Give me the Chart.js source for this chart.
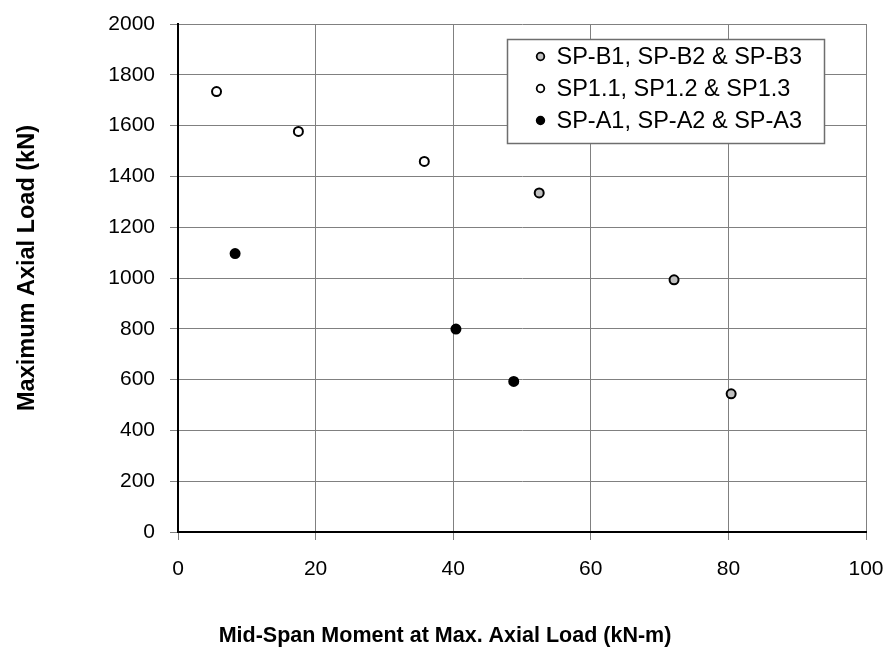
<!DOCTYPE html>
<html>
<head>
<meta charset="utf-8">
<script src="https://cdn.jsdelivr.net/npm/chart.js@4/dist/chart.umd.min.js"></script>
<style>
  body { margin: 0; background: #fff; }
</style>
</head>
<body>
<canvas id="myChart" width="891" height="652"></canvas>
<script>
// series: [moment kN-m, axial load kN]
let seriesNames = ["SP-B1, SP-B2 & SP-B3", "SP1.1, SP1.2 & SP1.3", "SP-A1, SP-A2 & SP-A3"];
let momentB = [52.5, 72.1, 80.4];
let loadB = [1335, 993, 544];
let moment1 = [5.6, 17.5, 35.8];
let load1 = [1734, 1577, 1459];
let momentA = [8.3, 40.4, 48.8];
let loadA = [1096, 799, 593];
let fills = ["#c0c0c0", "#ffffff", "#000000"];
let tituloX = "Mid-Span Moment at Max. Axial Load (kN-m)";
let tituloY = "Maximum Axial Load (kN)";

let fonte = "'Liberation Sans', Arial, sans-serif";

function pares(xs, ys) {
  let out = [];
  for (let i = 0; i < xs.length; i++) {
    out.push({ x: xs[i], y: ys[i] });
  }
  return out;
}

// legend box and axis titles drawn by hand (excel puts them off-centre)
let extras = {
  id: "extras",
  afterDraw(chart) {
    let ctx = chart.ctx;
    let left = 507.5, top = 39.5, w = 317, h = 104;
    ctx.save();
    ctx.fillStyle = "#fff";
    ctx.fillRect(left, top, w, h);
    ctx.strokeStyle = "#6e6e6e";
    ctx.lineWidth = 1.5;
    ctx.strokeRect(left, top, w, h);
    ctx.font = "23.5px " + fonte;
    ctx.textBaseline = "middle";
    chart.data.datasets.forEach(function (ds, i) {
      let cy = top + 17 + i * 32;
      ctx.beginPath();
      ctx.arc(left + 33, cy, 3.8, 0, Math.PI * 2);
      ctx.fillStyle = ds.backgroundColor;
      ctx.fill();
      ctx.lineWidth = 1.8;
      ctx.strokeStyle = "#000";
      ctx.stroke();
      ctx.fillStyle = "#000";
      ctx.fillText(ds.label, left + 49, cy + 1);
    });

    ctx.fillStyle = "#000";
    ctx.textAlign = "center";
    ctx.font = "bold 21.5px " + fonte;
    ctx.fillText(tituloX, 445, 636);

    ctx.translate(28, 268);
    ctx.rotate(-Math.PI / 2);
    ctx.font = "bold 23.5px " + fonte;
    ctx.fillText(tituloY, 0, 0);
    ctx.restore();
  }
};

let datasets = [];
let xsList = [momentB, moment1, momentA];
let ysList = [loadB, load1, loadA];
for (let i = 0; i < seriesNames.length; i++) {
  datasets.push({
    label: seriesNames[i],
    data: pares(xsList[i], ysList[i]),
    backgroundColor: fills[i],
    borderColor: "#000",
    borderWidth: 2,
    pointRadius: 4.5,
    pointHoverRadius: 4.5
  });
}

let chart = new Chart("myChart", {
  type: "scatter",
  data: { datasets: datasets },
  options: {
    responsive: false,
    animation: false,
    layout: { padding: { left: 0, right: 25, top: 24, bottom: 0 } },
    plugins: {
      legend: { display: false },
      tooltip: { enabled: false }
    },
    scales: {
      x: {
        min: 0,
        max: 100,
        ticks: {
          stepSize: 20,
          color: "#000",
          padding: 17,
          font: { family: fonte, size: 21 },
          callback: function (v) { return String(v); }
        },
        grid: { color: "#808080", lineWidth: 1, tickLength: 8 },
        border: { color: "#000", width: 2 },
        afterFit(scale) {
          scale.height = 120;
          scale.paddingLeft = 0;
          scale.paddingRight = 0;
        }
      },
      y: {
        min: 0,
        max: 2000,
        ticks: {
          stepSize: 200,
          color: "#000",
          padding: 15,
          font: { family: fonte, size: 21 },
          callback: function (v) { return String(v); }
        },
        grid: { color: "#808080", lineWidth: 1, tickLength: 8 },
        border: { color: "#000", width: 2 },
        afterFit(scale) {
          scale.width = 178;
          scale.paddingTop = 0;
          scale.paddingBottom = 0;
        }
      }
    }
  },
  plugins: [extras]
});
</script>
</body>
</html>
